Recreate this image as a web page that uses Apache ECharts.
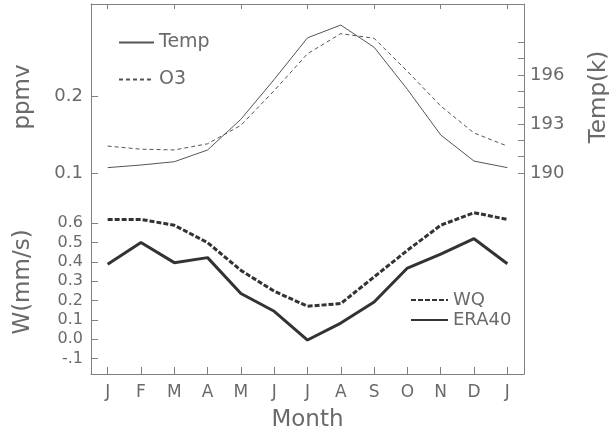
<!DOCTYPE html>
<html>
<head>
<meta charset="utf-8">
<script src="https://cdn.jsdelivr.net/npm/echarts@6/dist/echarts.min.js"></script>
<style>
  html, body { margin: 0; padding: 0; background: #fff; }
  #chart { width: 609px; height: 439px; }
</style>
</head>
<body>
<div id="chart"></div>
<script>
// data
const months = ['Jan', 'Feb', 'Mar', 'Apr', 'May', 'Jun', 'Jul', 'Aug', 'Sep', 'Oct', 'Nov', 'Dec', 'Jan2']
const monthLabels = ['J', 'F', 'M', 'A', 'M', 'J', 'J', 'A', 'S', 'O', 'N', 'D', 'J']
const temp = [190.33, 190.49, 190.69, 191.41, 193.29, 195.73, 198.28, 199.06, 197.70, 195.12, 192.33, 190.73, 190.33]
const o3 = [0.135, 0.131, 0.130, 0.138, 0.162, 0.207, 0.255, 0.281, 0.275, 0.232, 0.187, 0.152, 0.135]
const wq = [0.62, 0.62, 0.59, 0.50, 0.356, 0.248, 0.17, 0.184, 0.322, 0.46, 0.59, 0.655, 0.62]
const era40 = [0.388, 0.50, 0.396, 0.422, 0.236, 0.144, -0.005, 0.083, 0.192, 0.368, 0.44, 0.52, 0.39]
const ppmvTicks = [0.1, 0.2]
const tempTicks = [190, 191, 192, 193, 194, 195, 196, 197, 198]
const tempLabels = [190, 193, 196]
const wTicks = [-0.1, 0, 0.1, 0.2, 0.3, 0.4, 0.5, 0.6]

const font = 'DejaVu Sans'
const txt = '#6a6a6a'
const axisCol = '#808080'

const chart = echarts.init(document.getElementById('chart'))

const axisLine = { show: true, onZero: false, lineStyle: { color: axisCol, width: 1 } }
const fmt1 = v => (Math.abs(v + 0.1) < 1e-6 ? '-.1' : (+v).toFixed(1))

const option = {
  animation: false,
  backgroundColor: '#fff',
  textStyle: { fontFamily: font },
  grid: [
    { left: 91, right: 85, top: 4, height: 186, outerBoundsMode: 'none', containLabel: false },
    { left: 91, right: 85, top: 190, height: 184, outerBoundsMode: 'none', containLabel: false }
  ],
  legend: [
    {
      orient: 'vertical', left: 118, top: 33, padding: 0,
      itemWidth: 35, itemHeight: 14, itemGap: 18,
      itemStyle: { opacity: 0 },
      textStyle: { fontFamily: font, fontSize: 19, color: txt },
      data: ['Temp', 'O3']
    },
    {
      orient: 'vertical', left: 410, top: 291, padding: 0,
      itemWidth: 37, itemHeight: 14, itemGap: 2,
      itemStyle: { opacity: 0 },
      textStyle: { fontFamily: font, fontSize: 18, color: txt },
      data: ['WQ', 'ERA40']
    }
  ],
  xAxis: [
    {
      type: 'category', gridIndex: 0, position: 'top', data: months,
      boundaryGap: true,
      axisLine: axisLine,
      axisTick: { show: true, inside: true, length: 5, alignWithLabel: true, lineStyle: { color: axisCol } },
      axisLabel: { show: false },
      splitLine: { show: false }
    },
    {
      type: 'category', gridIndex: 1, position: 'bottom', data: months,
      boundaryGap: true,
      axisLine: axisLine,
      axisTick: { show: true, inside: true, length: 7, alignWithLabel: true, lineStyle: { color: axisCol } },
      axisLabel: {
        show: true, margin: 10, fontSize: 17, color: txt, fontFamily: font,
        formatter: (v, i) => monthLabels[i]
      },
      name: 'Month', nameLocation: 'middle', nameGap: 35,
      nameTextStyle: { fontSize: 23, color: txt, fontFamily: font },
      splitLine: { show: false }
    }
  ],
  yAxis: [
    {
      type: 'value', gridIndex: 0, position: 'left', min: 0.078, max: 0.3195,
      axisLine: axisLine,
      axisTick: { show: true, inside: true, length: 7, customValues: ppmvTicks, lineStyle: { color: axisCol } },
      axisLabel: { margin: 8, fontSize: 18, color: txt, fontFamily: font, customValues: ppmvTicks, formatter: v => (+v).toFixed(1) },
      splitLine: { show: false },
      name: 'ppmv', nameLocation: 'middle', nameRotate: 90, nameGap: 56,
      nameTextStyle: { fontSize: 23, color: txt, fontFamily: font }
    },
    {
      type: 'value', gridIndex: 0, position: 'right', min: 188.96, max: 200.35,
      axisLine: axisLine,
      axisTick: { show: true, inside: true, length: 6, customValues: tempTicks, lineStyle: { color: axisCol } },
      axisLabel: { margin: 6, fontSize: 18, color: txt, fontFamily: font, customValues: tempLabels },
      splitLine: { show: false },
      name: 'Temp(k)', nameLocation: 'middle', nameRotate: 90, nameGap: 64,
      nameTextStyle: { fontSize: 23, color: txt, fontFamily: font }
    },
    {
      type: 'value', gridIndex: 1, position: 'left', min: -0.181, max: 0.7725,
      axisLine: axisLine,
      axisTick: { show: true, inside: true, length: 7, customValues: wTicks, lineStyle: { color: axisCol } },
      axisLabel: { margin: 8, fontSize: 16, color: txt, fontFamily: font, customValues: wTicks, formatter: fmt1 },
      splitLine: { show: false },
      name: 'W(mm/s)', nameLocation: 'middle', nameRotate: 90, nameGap: 56,
      nameTextStyle: { fontSize: 23, color: txt, fontFamily: font }
    },
    {
      type: 'value', gridIndex: 1, position: 'right', min: 0, max: 1,
      axisLine: axisLine,
      axisTick: { show: false },
      axisLabel: { show: false },
      splitLine: { show: false }
    }
  ],
  series: [
    {
      name: 'Temp', type: 'line', xAxisIndex: 0, yAxisIndex: 1, data: temp,
      symbol: 'none', color: '#555',
      lineStyle: { width: 1, color: '#555', type: 'solid' }
    },
    {
      name: 'O3', type: 'line', xAxisIndex: 0, yAxisIndex: 0, data: o3,
      symbol: 'none', color: '#555',
      lineStyle: { width: 1, color: '#555', type: [4, 3] }
    },
    {
      name: 'WQ', type: 'line', xAxisIndex: 1, yAxisIndex: 2, data: wq,
      symbol: 'none', color: '#333',
      lineStyle: { width: 3, color: '#333', type: [5, 2] }
    },
    {
      name: 'ERA40', type: 'line', xAxisIndex: 1, yAxisIndex: 2, data: era40,
      symbol: 'none', color: '#333',
      lineStyle: { width: 3, color: '#333', type: 'solid' }
    }
  ]
}

chart.setOption(option)
</script>
</body>
</html>
